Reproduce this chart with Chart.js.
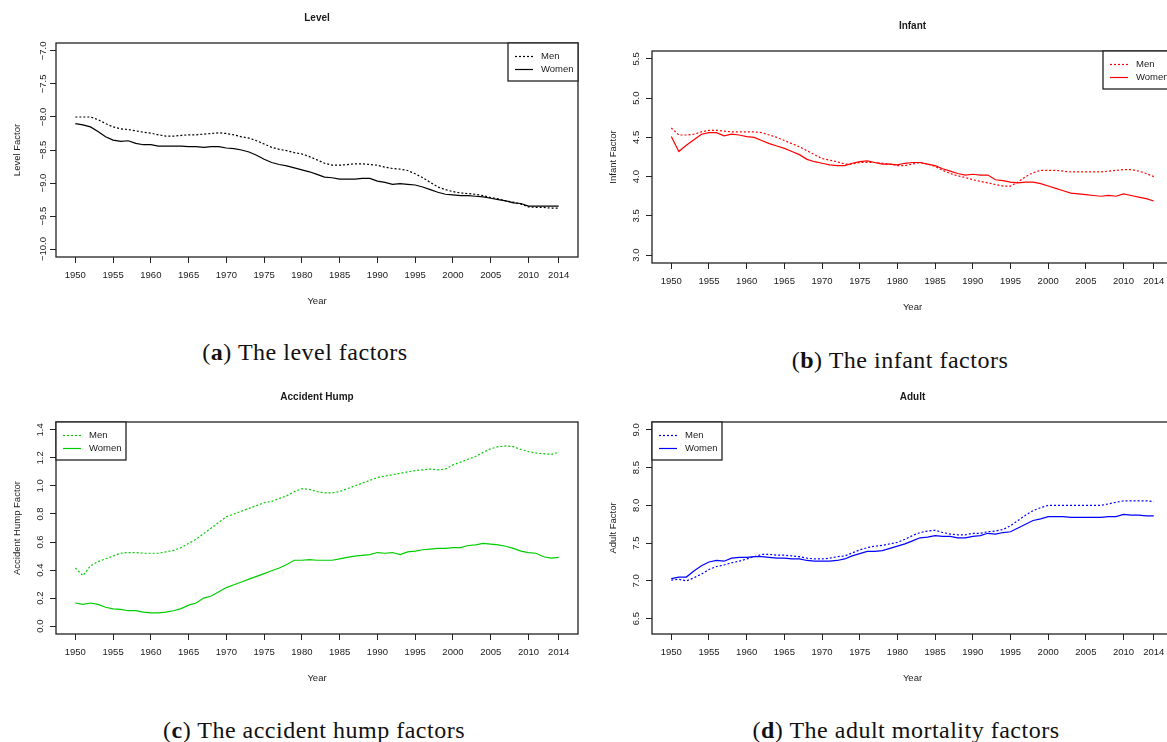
<!DOCTYPE html>
<html>
<head>
  <title>Mortality factors</title>
  <script src="https://cdn.jsdelivr.net/npm/chart.js"></script>
  <style>
    html, body {
      margin: 0;
      padding: 0;
      width: 1167px;
      height: 742px;
      overflow: hidden;
      background: #fff;
    }
    canvas {
      position: absolute;
    }
    .caption {
      position: absolute;
      width: 500px;
      margin-left: -250px;
      text-align: center;
      font-family: 'Liberation Serif', 'DejaVu Serif', serif;
      font-size: 24px;
      letter-spacing: 0.5px;
      color: #111;
      line-height: 28px;
    }
  </style>
</head>
<body>
  <canvas id="levelChart" width="590" height="320" style="left:0;top:0"></canvas>
  <canvas id="infantChart" width="600" height="320" style="left:590px;top:0"></canvas>
  <canvas id="humpChart" width="590" height="310" style="left:0;top:380px"></canvas>
  <canvas id="adultChart" width="600" height="310" style="left:590px;top:380px"></canvas>

  <div class="caption" style="left:305px;top:338px">(<b>a</b>) The level factors</div>
  <div class="caption" style="left:900px;top:346px">(<b>b</b>) The infant factors</div>
  <div class="caption" style="left:314px;top:716px">(<b>c</b>) The accident hump factors</div>
  <div class="caption" style="left:906px;top:716px">(<b>d</b>) The adult mortality factors</div>

  <script>
    // ---- data ----
    const years = [
      1950, 1951, 1952, 1953, 1954, 1955, 1956, 1957, 1958, 1959,
      1960, 1961, 1962, 1963, 1964, 1965, 1966, 1967, 1968, 1969,
      1970, 1971, 1972, 1973, 1974, 1975, 1976, 1977, 1978, 1979,
      1980, 1981, 1982, 1983, 1984, 1985, 1986, 1987, 1988, 1989,
      1990, 1991, 1992, 1993, 1994, 1995, 1996, 1997, 1998, 1999,
      2000, 2001, 2002, 2003, 2004, 2005, 2006, 2007, 2008, 2009,
      2010, 2011, 2012, 2013, 2014
    ];
    const yearTicks = [1950, 1955, 1960, 1965, 1970, 1975, 1980, 1985, 1990, 1995, 2000, 2005, 2010, 2014];

    const levelMen = [
      -8.00, -8.00, -8.00, -8.04, -8.10, -8.15, -8.18, -8.19, -8.21, -8.23,
      -8.245, -8.27, -8.29, -8.29, -8.28, -8.27, -8.27, -8.26, -8.25, -8.24,
      -8.25, -8.27, -8.30, -8.32, -8.36, -8.41, -8.46, -8.49, -8.51, -8.54,
      -8.56, -8.60, -8.65, -8.70, -8.73, -8.73, -8.72, -8.71, -8.71, -8.72,
      -8.73, -8.76, -8.78, -8.79, -8.81, -8.86, -8.92, -8.99, -9.06, -9.10,
      -9.13, -9.15, -9.16, -9.17, -9.19, -9.22, -9.24, -9.27, -9.29, -9.32,
      -9.36, -9.37, -9.37, -9.38, -9.38
    ];
    const levelWomen = [
      -8.10, -8.12, -8.15, -8.22, -8.30, -8.35, -8.37, -8.36, -8.40, -8.42,
      -8.42, -8.44, -8.44, -8.44, -8.44, -8.45, -8.45, -8.46, -8.45, -8.45,
      -8.47, -8.48, -8.50, -8.53, -8.58, -8.64, -8.69, -8.72, -8.74, -8.77,
      -8.80, -8.83, -8.87, -8.91, -8.92, -8.94, -8.94, -8.94, -8.93, -8.93,
      -8.97, -8.99, -9.02, -9.01, -9.02, -9.03, -9.06, -9.10, -9.14, -9.17,
      -9.18, -9.19, -9.19, -9.20, -9.21, -9.23, -9.25, -9.27, -9.30, -9.31,
      -9.35, -9.35, -9.35, -9.35, -9.35
    ];
    const levelTicks = [-10.0, -9.5, -9.0, -8.5, -8.0, -7.5, -7.0];

    const infantMen = [
      4.62, 4.53, 4.53, 4.54, 4.57, 4.59, 4.59, 4.58, 4.57, 4.57,
      4.57, 4.57, 4.56, 4.53, 4.50, 4.46, 4.42, 4.38, 4.33, 4.28,
      4.23, 4.21, 4.19, 4.16, 4.16, 4.18, 4.18, 4.18, 4.17, 4.16,
      4.14, 4.14, 4.16, 4.18, 4.16, 4.13, 4.08, 4.04, 4.01, 3.99,
      3.96, 3.94, 3.92, 3.90, 3.88, 3.88, 3.93, 4.00, 4.05, 4.08,
      4.08, 4.08, 4.07, 4.06, 4.06, 4.06, 4.06, 4.06, 4.07, 4.08,
      4.09, 4.09, 4.07, 4.04, 4.00
    ];
    const infantWomen = [
      4.51, 4.32, 4.40, 4.47, 4.54, 4.56, 4.56, 4.52, 4.54, 4.53,
      4.51, 4.50, 4.46, 4.42, 4.39, 4.36, 4.32, 4.28, 4.22, 4.19,
      4.17, 4.15, 4.14, 4.14, 4.17, 4.19, 4.20, 4.18, 4.16, 4.16,
      4.15, 4.17, 4.18, 4.18, 4.16, 4.14, 4.10, 4.07, 4.04, 4.02,
      4.03, 4.02, 4.02, 3.96, 3.95, 3.93, 3.92, 3.93, 3.93, 3.91,
      3.88, 3.85, 3.82, 3.79, 3.78, 3.77, 3.76, 3.75, 3.76, 3.75,
      3.78, 3.76, 3.74, 3.72, 3.69
    ];
    const infantTicks = [3.0, 3.5, 4.0, 4.5, 5.0, 5.5];

    const humpMen = [
      0.415, 0.36, 0.43, 0.46, 0.48, 0.50, 0.52, 0.525, 0.525, 0.52,
      0.52, 0.52, 0.53, 0.54, 0.56, 0.59, 0.62, 0.66, 0.70, 0.74,
      0.78, 0.80, 0.82, 0.84, 0.86, 0.88, 0.89, 0.91, 0.93, 0.96,
      0.98, 0.975, 0.96, 0.95, 0.95, 0.96, 0.98, 1.00, 1.02, 1.04,
      1.06, 1.07, 1.08, 1.09, 1.10, 1.11, 1.115, 1.12, 1.115, 1.12,
      1.15, 1.17, 1.19, 1.21, 1.24, 1.265, 1.28, 1.285, 1.28, 1.26,
      1.245, 1.235, 1.23, 1.225, 1.24
    ];
    const humpWomen = [
      0.165, 0.155, 0.165, 0.155, 0.135, 0.123, 0.12, 0.11, 0.11, 0.10,
      0.095, 0.095, 0.10, 0.11, 0.125, 0.15, 0.165, 0.20, 0.215, 0.245,
      0.275, 0.295, 0.315, 0.335, 0.355, 0.375, 0.395, 0.415, 0.44, 0.47,
      0.47, 0.475, 0.47, 0.47, 0.47, 0.48, 0.49, 0.50, 0.505, 0.51,
      0.525, 0.52, 0.525, 0.51, 0.53, 0.535, 0.545, 0.55, 0.555, 0.555,
      0.56, 0.56, 0.575, 0.58, 0.59, 0.585, 0.58, 0.57, 0.555, 0.535,
      0.525, 0.52, 0.495, 0.485, 0.49
    ];
    const humpTicks = [0.0, 0.2, 0.4, 0.6, 0.8, 1.0, 1.2, 1.4];

    const adultMen = [
      7.01, 7.02, 7.00, 7.04, 7.09, 7.15, 7.19, 7.21, 7.24, 7.26,
      7.29, 7.32, 7.35, 7.35, 7.34, 7.34, 7.33, 7.32, 7.30, 7.29,
      7.29, 7.30, 7.32, 7.33, 7.37, 7.41, 7.44, 7.46, 7.47, 7.49,
      7.51, 7.55, 7.60, 7.64, 7.66, 7.67, 7.64, 7.62, 7.61, 7.61,
      7.63, 7.63, 7.65, 7.66, 7.68, 7.73, 7.80, 7.87, 7.93, 7.97,
      8.00, 8.00, 8.00, 8.00, 8.00, 8.00, 8.00, 8.00, 8.02, 8.04,
      8.06, 8.06, 8.06, 8.06, 8.05
    ];
    const adultWomen = [
      7.03, 7.05, 7.05, 7.13, 7.20, 7.25, 7.27, 7.26, 7.30, 7.31,
      7.31, 7.32, 7.32, 7.31, 7.30, 7.30, 7.29, 7.29, 7.27, 7.26,
      7.26, 7.26, 7.27, 7.29, 7.33, 7.36, 7.39, 7.39, 7.40, 7.43,
      7.46, 7.49, 7.53, 7.57, 7.58, 7.60, 7.59, 7.59, 7.57, 7.57,
      7.59, 7.60, 7.63, 7.62, 7.64, 7.65, 7.70, 7.75, 7.80, 7.82,
      7.85, 7.85, 7.85, 7.84, 7.84, 7.84, 7.84, 7.84, 7.85, 7.85,
      7.88, 7.87, 7.87, 7.86, 7.86
    ];
    const adultTicks = [6.5, 7.0, 7.5, 8.0, 8.5, 9.0];

    // ---- drawing ----
    const FONT = "'Liberation Sans', Arial, Helvetica, sans-serif";
    const INK = '#1a1a1a';
    Chart.defaults.font.family = FONT;
    Chart.defaults.font.size = 9.5;
    Chart.defaults.color = INK;

    function fmt(v) {
      return v.toFixed(1).replace('-', '\u2212');
    }

    // R-like extras: box, title, rotated y labels, axis titles, legend
    const rStyle = {
      id: 'rStyle',
      afterDraw(chart, args, o) {
        const ctx = chart.ctx;
        const a = chart.chartArea;
        const yScale = chart.scales.y;
        const cx = (a.left + a.right) / 2;
        ctx.save();
        ctx.strokeStyle = '#222';
        ctx.lineWidth = 1.3;
        ctx.strokeRect(a.left, a.top, a.right - a.left, a.bottom - a.top);

        ctx.fillStyle = INK;
        ctx.textAlign = 'center';
        ctx.textBaseline = 'middle';
        ctx.font = 'bold 10px ' + FONT;
        ctx.fillText(o.title, cx, a.top - 24.5);

        ctx.font = '9.5px ' + FONT;
        ctx.fillText('Year', cx, a.bottom + 44.5);

        o.yTicks.forEach(v => {
          ctx.save();
          ctx.translate(a.left - o.labelGap, yScale.getPixelForValue(v));
          ctx.rotate(-Math.PI / 2);
          ctx.fillText(fmt(v), 0, 0);
          ctx.restore();
        });

        ctx.save();
        ctx.translate(a.left - 39, (a.top + a.bottom) / 2);
        ctx.rotate(-Math.PI / 2);
        ctx.fillText(o.yTitle, 0, 0);
        ctx.restore();

        // legend box
        const w = 70, h = 38;
        const lx = o.legendSide === 'right' ? a.right - w : a.left;
        const ly = a.top;
        ctx.fillStyle = '#fff';
        ctx.fillRect(lx, ly, w, h);
        ctx.strokeRect(lx, ly, w, h);
        ctx.textAlign = 'left';
        chart.data.datasets.forEach((ds, i) => {
          const ry = ly + 13.5 + i * 13;
          ctx.strokeStyle = ds.borderColor;
          ctx.lineWidth = ds.borderWidth;
          ctx.setLineDash(ds.borderDash || []);
          ctx.beginPath();
          ctx.moveTo(lx + 7, ry);
          ctx.lineTo(lx + 25, ry);
          ctx.stroke();
          ctx.setLineDash([]);
          ctx.fillStyle = INK;
          ctx.fillText(ds.label, lx + 33, ry);
        });
        ctx.restore();
      }
    };

    function makePanel(id, p) {
      const canvas = document.getElementById(id);
      const W = canvas.width, H = canvas.height;
      return new Chart(canvas.getContext('2d'), {
        type: 'line',
        data: {
          labels: years,
          datasets: [
            { label: 'Men', data: p.men, borderColor: p.color, borderWidth: 1.2, borderDash: [2, 2], pointRadius: 0, tension: 0 },
            { label: 'Women', data: p.women, borderColor: p.color, borderWidth: 1.2, pointRadius: 0, tension: 0 }
          ]
        },
        options: {
          responsive: false,
          animation: false,
          events: [],
          layout: {
            padding: { left: p.area[0] - 6, top: p.area[1], right: W - p.area[2], bottom: H - p.area[3] - 30 }
          },
          plugins: {
            legend: { display: false },
            tooltip: { enabled: false },
            rStyle: { title: p.title, yTitle: p.yTitle, yTicks: p.yTicks, labelGap: p.labelGap, legendSide: p.legendSide }
          },
          scales: {
            x: {
              type: 'linear',
              min: 1947.44,
              max: 2016.56,
              afterBuildTicks: s => { s.ticks = yearTicks.map(v => ({ value: v })); },
              afterFit: s => { s.height = 30; },
              ticks: { autoSkip: false, maxRotation: 0, padding: 7, color: INK, callback: v => String(v) },
              grid: { drawOnChartArea: false, tickLength: 6, color: '#222', lineWidth: 1 },
              border: { display: false }
            },
            y: {
              min: p.yMin,
              max: p.yMax,
              afterBuildTicks: s => { s.ticks = p.yTicks.map(v => ({ value: v })); },
              afterFit: s => { s.width = 6; },
              ticks: { display: false },
              grid: { drawOnChartArea: false, tickLength: 6, color: '#222', lineWidth: 1 },
              border: { display: false }
            }
          }
        },
        plugins: [rStyle]
      });
    }

    makePanel('levelChart', {
      title: 'Level', yTitle: 'Level Factor', color: '#000000',
      men: levelMen, women: levelWomen, yTicks: levelTicks,
      yMin: -10.12, yMax: -6.88, area: [56, 43, 578, 257], labelGap: 13, legendSide: 'right'
    });
    makePanel('infantChart', {
      title: 'Infant', yTitle: 'Infant Factor', color: '#ff0000',
      men: infantMen, women: infantWomen, yTicks: infantTicks,
      yMin: 2.9, yMax: 5.6, area: [62, 51, 583, 263], labelGap: 16, legendSide: 'right'
    });
    makePanel('humpChart', {
      title: 'Accident Hump', yTitle: 'Accident Hump Factor', color: '#00cd00',
      men: humpMen, women: humpWomen, yTicks: humpTicks,
      yMin: -0.056, yMax: 1.456, area: [56, 42, 578, 254], labelGap: 16, legendSide: 'left'
    });
    makePanel('adultChart', {
      title: 'Adult', yTitle: 'Adult Factor', color: '#0000ff',
      men: adultMen, women: adultWomen, yTicks: adultTicks,
      yMin: 6.296, yMax: 9.104, area: [62, 42, 583, 254], labelGap: 16, legendSide: 'left'
    });
  </script>
</body>
</html>
